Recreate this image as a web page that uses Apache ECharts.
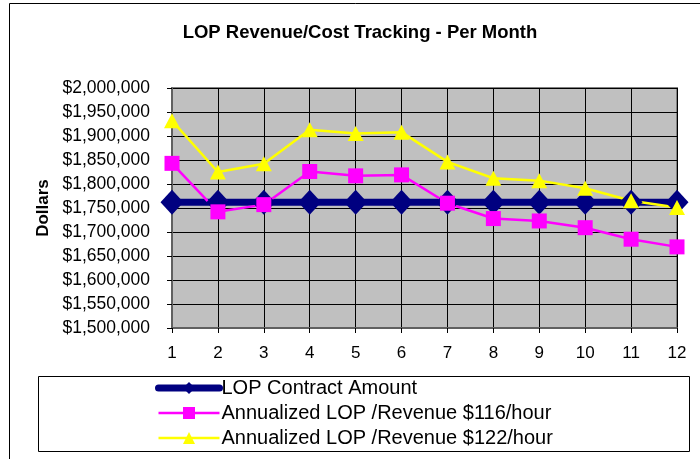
<!DOCTYPE html>
<html>
<head>
<meta charset="utf-8">
<title>LOP Revenue/Cost Tracking</title>
<script src="https://cdn.jsdelivr.net/npm/echarts@6/dist/echarts.min.js"></script>
<style>
html,body{margin:0;padding:0;background:#fff;}
#chart{width:700px;height:459px;}
</style>
</head>
<body>
<div id="chart"></div>
<script>
var months=['1','2','3','4','5','6','7','8','9','10','11','12'];
var contractAmount=[1762000,1762000,1762000,1762000,1762000,1762000,1762000,1762000,1762000,1762000,1762000,1762000];
var revenue116=[1843000,1742000,1757000,1826000,1817000,1819000,1760000,1728000,1723000,1709000,1685000,1669000];
var revenue122=[1932000,1825000,1842000,1913000,1905000,1908000,1846000,1812000,1807000,1791000,1765000,1751000];

var font='"Liberation Sans", Arial, sans-serif';

var myChart=echarts.init(document.getElementById('chart'));
var option={
    animation:false,
    title:{
        text:'LOP Revenue/Cost Tracking - Per Month',
        left:355,
        textAlign:'center',
        top:18,
        textStyle:{fontFamily:font,fontSize:18.5,fontWeight:'bold',color:'#000'}
    },
    // outer chart frame and legend box
    graphic:[
        {type:'rect',shape:{x:9.5,y:3.5,width:700,height:470},style:{fill:'none',stroke:'#000',lineWidth:1},z:-10},
        {type:'rect',shape:{x:38.5,y:376.5,width:651,height:75},style:{fill:'#fff',stroke:'#000',lineWidth:1},z:-5}
    ],
    legend:{
        orient:'vertical',
        left:155,
        top:378,
        padding:0,
        itemWidth:61,
        itemHeight:15,
        itemGap:5,
        textStyle:{fontFamily:font,fontSize:20,color:'#000',padding:[0,0,0,-3],lineHeight:20},
        data:[
            {name:'LOP Contract Amount',lineStyle:{width:7,cap:'round'}},
            {name:'Annualized LOP /Revenue $116/hour',lineStyle:{width:2.5}},
            {name:'Annualized LOP /Revenue $122/hour',lineStyle:{width:2.5}}
        ]
    },
    grid:{
        left:172,
        right:23,
        top:88,
        bottom:131,
        show:true,
        backgroundColor:'#c0c0c0',
        borderColor:'#808080',
        borderWidth:2
    },
    xAxis:{
        type:'category',
        data:months,
        boundaryGap:false,
        axisLine:{lineStyle:{color:'#606060',width:2}},
        axisTick:{show:true,length:5,alignWithLabel:true,lineStyle:{color:'#000'}},
        axisLabel:{fontFamily:font,fontSize:17,color:'#000',margin:17},
        splitLine:{show:true,lineStyle:{color:'#000',width:1}}
    },
    yAxis:{
        type:'value',
        min:1500000,
        max:2000000,
        interval:50000,
        name:'Dollars',
        nameLocation:'middle',
        nameGap:120,
        nameRotate:90,
        nameTextStyle:{fontFamily:font,fontSize:17,fontWeight:'bold',color:'#000'},
        axisLine:{show:true,lineStyle:{color:'#606060',width:2}},
        axisTick:{show:true,length:5,lineStyle:{color:'#000'}},
        axisLabel:{
            fontFamily:font,fontSize:17.5,color:'#000',margin:22,
            formatter:function(v){return '$'+v.toLocaleString('en-US');}
        },
        splitLine:{show:true,lineStyle:{color:'#000',width:1}}
    },
    series:[
        {
            name:'LOP Contract Amount',
            type:'line',
            data:contractAmount,
            symbol:'diamond',
            symbolSize:[23,25],
            lineStyle:{color:'#000080',width:7},
            itemStyle:{color:'#000080'}
        },
        {
            name:'Annualized LOP /Revenue $116/hour',
            type:'line',
            data:revenue116,
            symbol:'rect',
            symbolSize:15,
            lineStyle:{color:'#ff00ff',width:2.5},
            itemStyle:{color:'#ff00ff'}
        },
        {
            name:'Annualized LOP /Revenue $122/hour',
            type:'line',
            data:revenue122,
            symbol:'triangle',
            symbolSize:[16,15],
            lineStyle:{color:'#ffff00',width:2.5},
            itemStyle:{color:'#ffff00'}
        }
    ]
};
myChart.setOption(option);
</script>
</body>
</html>
